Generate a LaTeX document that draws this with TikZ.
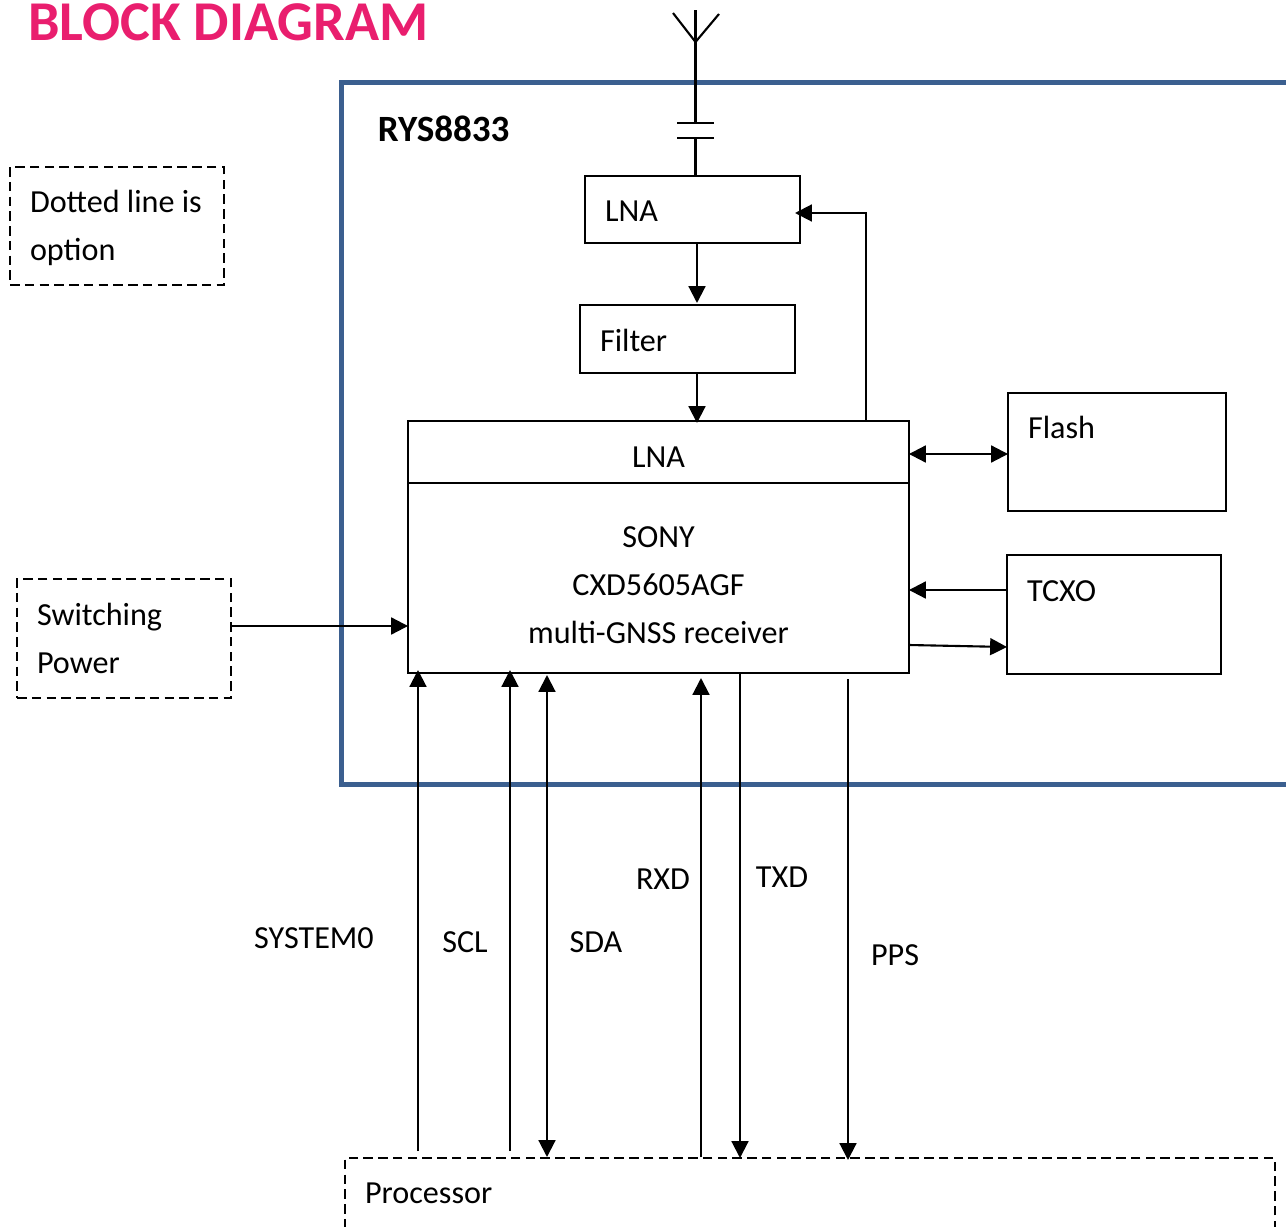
\documentclass[tikz,border=0pt]{standalone}
\usepackage{fontspec}
\setmainfont{Carlito}
\usetikzlibrary{arrows.meta}
\definecolor{titlepink}{RGB}{233,30,110}
\definecolor{frameblue}{RGB}{59,95,143}
\newcommand{\dropby}[2]{\raisebox{-#1}[\height][\depth]{#2}}

\begin{document}
\begin{tikzpicture}[x=0.02cm,y=-0.02cm]
\tikzstyle{nodefont}=[font=\fontsize{18.3}{27.2}\selectfont]
\tikzstyle{boxstyle}=[draw, line width=1.2pt, outer sep=0, inner xsep=0.4cm, inner ysep=0, align=flush left, nodefont]
\tikzstyle{dashstyle}=[boxstyle, line width=1pt, dash pattern=on 5.4pt off 3pt]
\tikzstyle{chipstyle}=[draw, line width=1.2pt, outer sep=0, inner sep=0, align=center, nodefont]
\tikzstyle{linestyle}=[line width=1.2pt]
\tikzstyle{arrowstyle}=[linestyle, -{Triangle[length=9.6pt,width=9.6pt]}]
\tikzstyle{bothstyle}=[linestyle, {Triangle[length=9.6pt,width=9.6pt]}-{Triangle[length=9.6pt,width=9.6pt]}]
\tikzstyle{textstyle}=[inner sep=0, nodefont]
    \clip (0,0) rectangle (1286,1227);
    \node[inner sep=0, anchor=base west, text=titlepink, font=\fontsize{32}{34}\selectfont\bfseries] (title) at (28,40) {BLOCK DIAGRAM};
    % module frame
    \node[draw=frameblue, line width=2.9pt, outer sep=0, inner sep=0, minimum width=18.96cm, minimum height=14.04cm] (module) at (815,433.5) {};
    \node[inner sep=0, anchor=base west, font=\fontsize{21.1}{24}\selectfont\bfseries] (modulename) at (377.5,141) {RYS8833};
    % boxes
    \node[dashstyle, text width=3.48cm, minimum height=2.36cm] (note) at (117,226) {\dropby{1.1pt}{Dotted line is}\\\dropby{1.1pt}{option}};
    \node[dashstyle, text width=3.48cm, minimum height=2.38cm] (switching) at (124,638.5) {Switching\\Power};
    \node[dashstyle, text width=17.8cm, minimum height=1.44cm] (processor) at (810,1194) {\dropby{-0.6pt}{Processor}};
    \node[boxstyle, text width=3.5cm, minimum height=1.34cm] (lna) at (692.5,209.5) {\dropby{1.1pt}{LNA}};
    \node[boxstyle, text width=3.5cm, minimum height=1.36cm] (filter) at (687.5,339) {\dropby{1.1pt}{Filter}};
    \node[boxstyle, text width=3.56cm, minimum height=2.36cm] (flash) at (1117,452) {\dropby{3.4pt}{Flash}\\\strut};
    \node[boxstyle, text width=3.48cm, minimum height=2.38cm] (tcxo) at (1114,614.5) {\dropby{4.5pt}{TCXO}\\\strut};
    \node[chipstyle, minimum width=10.02cm, minimum height=1.24cm] (chiptop) at (658.5,452) {\dropby{2.8pt}{LNA}};
    \node[chipstyle, minimum width=10.02cm, minimum height=3.8cm] (chip) at (658.5,578) {};
    \node[textstyle, align=center] (chiptext) at (658.5,585) {SONY\\CXD5605AGF\\multi-GNSS receiver};
    % signal names
    \node[textstyle] (system0) at (314,938) {SYSTEM0};
    \node[textstyle] (scl) at (465,942) {SCL};
    \node[textstyle] (sda) at (596,942) {SDA};
    \node[textstyle] (rxd) at (663,879) {RXD};
    \node[textstyle] (txd) at (782,877) {TXD};
    \node[textstyle] (pps) at (895,955) {PPS};
    % antenna and capacitor
    \coordinate (anttop) at (695.5,10);
    \coordinate (antfoot) at (695.5,42);
    \coordinate (antleft) at (673,13);
    \coordinate (antright) at (719,14);
    \coordinate (capa) at (695.5,123);
    \coordinate (capb) at (695.5,138);
    \draw[linestyle] (anttop) -- (capa);
    \draw[linestyle] (antleft) -- (antfoot) -- (antright);
    \draw[linestyle] ([xshift=-0.37cm]capa) -- ([xshift=0.37cm]capa);
    \draw[linestyle] ([xshift=-0.37cm]capb) -- ([xshift=0.37cm]capb);
    \draw[linestyle] (capb) -- (lna.north -| capb);
    % inside the module
    \coordinate (xmid) at (697,0);
    \coordinate (xback) at (866,0);
    \coordinate (lnain) at (795,213);
    \coordinate (filterin) at (697,303);
    \coordinate (chipin) at (697,423);
    \coordinate (flashy) at (0,454);
    \coordinate (clockin) at (0,590);
    \coordinate (clockouta) at (909,645);
    \coordinate (clockoutb) at (1007,647);
    \coordinate (powery) at (0,626);
    \draw[arrowstyle] (lna.south -| xmid) -- (filterin);
    \draw[arrowstyle] (filter.south -| xmid) -- (chipin);
    \draw[arrowstyle] (chiptop.north -| xback) -- (lnain -| xback) -- (lnain);
    \draw[bothstyle] (chiptop.east |- flashy) -- (flash.west |- flashy);
    \draw[arrowstyle] (tcxo.west |- clockin) -- (chip.east |- clockin);
    \draw[arrowstyle] (clockouta) -- (clockoutb);
    \draw[arrowstyle] (switching.east |- powery) -- (chip.west |- powery);
    % bus to the processor
    \coordinate (sysa) at (418,1151);
    \coordinate (sysb) at (418,670);
    \coordinate (scla) at (510,1151);
    \coordinate (sclb) at (510,670);
    \coordinate (sdaa) at (547,1157);
    \coordinate (sdab) at (547,675);
    \coordinate (rxda) at (701,1157);
    \coordinate (rxdb) at (701,678);
    \coordinate (txda) at (740,673);
    \coordinate (txdb) at (740,1158);
    \coordinate (ppsa) at (848,679);
    \coordinate (ppsb) at (848,1160);
    \draw[arrowstyle] (sysa) -- (sysb);
    \draw[arrowstyle] (scla) -- (sclb);
    \draw[bothstyle] (sdaa) -- (sdab);
    \draw[arrowstyle] (rxda) -- (rxdb);
    \draw[arrowstyle] (txda) -- (txdb);
    \draw[arrowstyle] (ppsa) -- (ppsb);
\end{tikzpicture}
\end{document}
